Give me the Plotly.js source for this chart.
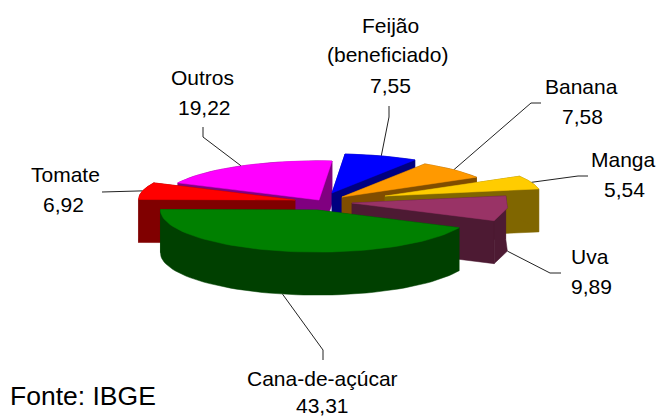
<!DOCTYPE html>
<html><head><meta charset="utf-8">
<script src="https://cdn.plot.ly/plotly-3.0.1.min.js"></script>
<style>html,body{margin:0;padding:0;background:#fff}</style></head>
<body><div id="chart" style="width:658px;height:417px"></div>
<script>
// ---- data ----
const categories = ["Feijão","Banana","Manga","Uva","Cana-de-açúcar","Tomate","Outros"];
const categoryLines = [["Feijão","(beneficiado)"],["Banana"],["Manga"],["Uva"],["Cana-de-açúcar"],["Tomate"],["Outros"]];
const values = [7.55,7.58,5.54,9.89,43.31,6.92,19.22];
const valueLabels = ["7,55","7,58","5,54","9,89","43,31","6,92","19,22"];

// ---- styles ----
const topColors  = ["#0000ff","#ff9900","#ffcc00","#993366","#008000","#ff0000","#ff00ff"];
const sideColors = ["#000080","#804d00","#806600","#4d1a33","#004000","#800000","#800080"];
const centres = [[332,193],[342,197],[385,196],[352,203],[317,210],[295,200],[319,200]];
const leaderPaths = [
  [[389,117],[389,106]],
  [[531,103],[541,103]],
  [[578,176],[588,176]],
  [[550,273],[561,273]],
  [[323,350],[323,360]],
  [[102,192]],
  [[203,137],[203,127]]
];
const labelPos = [
  [[390,25],[387,54],[390,85]],
  [[581,86],[582,116]],
  [[623,159],[624,189]],
  [[590,256],[591,286]],
  [[322,378],[322,405]],
  [[65,174],[63,204]],
  [[202.5,77],[204,107]]
];
const arcSteps = [8,8,3,2,60,4,24];
const drawOrder = [6,0,1,2,3,5,4];
const DEPTH = 43, RX = 156, SHEAR = 13, RY_BACK = 39, RY_FRONT = 42, TILT = 3.5;
const FONT = "Liberation Sans, Arial, sans-serif";

// ---- geometry from values ----
const total = values.reduce((a,b)=>a+b,0);
let acc = 0;
const spans = values.map(v=>{const s=acc/total*2*Math.PI; acc+=v; return [s,acc/total*2*Math.PI];});
const proj = (c,a,dz=0)=>{
  const cs=Math.cos(a), ry=cs<0?RY_FRONT:RY_BACK;
  return [c[0]+RX*Math.sin(a)+SHEAR*cs, c[1]-ry*cs+TILT*Math.sin(a)+dz];
};
const arc = (i,dz=0)=>{
  const [s,e]=spans[i], n=arcSteps[i], out=[];
  for(let k=0;k<=n;k++) out.push(proj(centres[i],s+(e-s)*k/n,dz));
  return out;
};
const traces = [];
const poly = (pts,color)=>traces.push({type:"scatter",mode:"lines",x:pts.map(p=>p[0]),y:pts.map(p=>p[1]),
  fill:"toself",fillcolor:color,line:{color:color,width:0.5},hoverinfo:"skip",showlegend:false});

drawOrder.forEach(i=>{
  const c=centres[i], top=arc(i), bot=arc(i,DEPTH);
  const cb=[c[0],c[1]+DEPTH];
  poly([c,top[0],bot[0],cb,c],sideColors[i]);
  poly([c,top[top.length-1],bot[bot.length-1],cb,c],sideColors[i]);
  poly(top.concat(bot.slice().reverse()),sideColors[i]);
  poly([c].concat(top,[c]),topColors[i]);
});

// ---- leader lines, anchored on each slice's mid angle ----
const shapes = leaderPaths.map((pts,i)=>{
  const [s,e]=spans[i], isFront=(i===3||i===4);
  const p=proj(centres[i],(s+e)/2,isFront?DEPTH:0);
  const all=[p].concat(pts);
  return {type:"path",xref:"x",yref:"y",path:all.map((q,k)=>(k?"L":"M")+q[0]+","+q[1]).join(" "),
    line:{color:"#222",width:1},layer:"below"};
});

// ---- text ----
const text=(x,y,t,size=21,xa="center")=>({x,y,xref:"x",yref:"y",text:t,showarrow:false,xanchor:xa,yanchor:"middle",
  font:{family:FONT,size:size,color:"#000"}});
const annotations=[];
categories.forEach((_,i)=>{
  const lines=categoryLines[i].concat(valueLabels[i]);
  lines.forEach((t,k)=>annotations.push(text(labelPos[i][k][0],labelPos[i][k][1],t)));
});
annotations.push(text(8,396,"Fonte: IBGE",26.5,"left"));

const hidden={visible:false,fixedrange:true,autorange:false};
Plotly.newPlot("chart",traces,{
  width:658,height:417,margin:{l:0,r:0,t:0,b:0},paper_bgcolor:"#fff",plot_bgcolor:"#fff",showlegend:false,
  xaxis:Object.assign({range:[0,658]},hidden),yaxis:Object.assign({range:[417,0]},hidden),
  shapes,annotations
},{staticPlot:true,displayModeBar:false});
</script></body></html>
